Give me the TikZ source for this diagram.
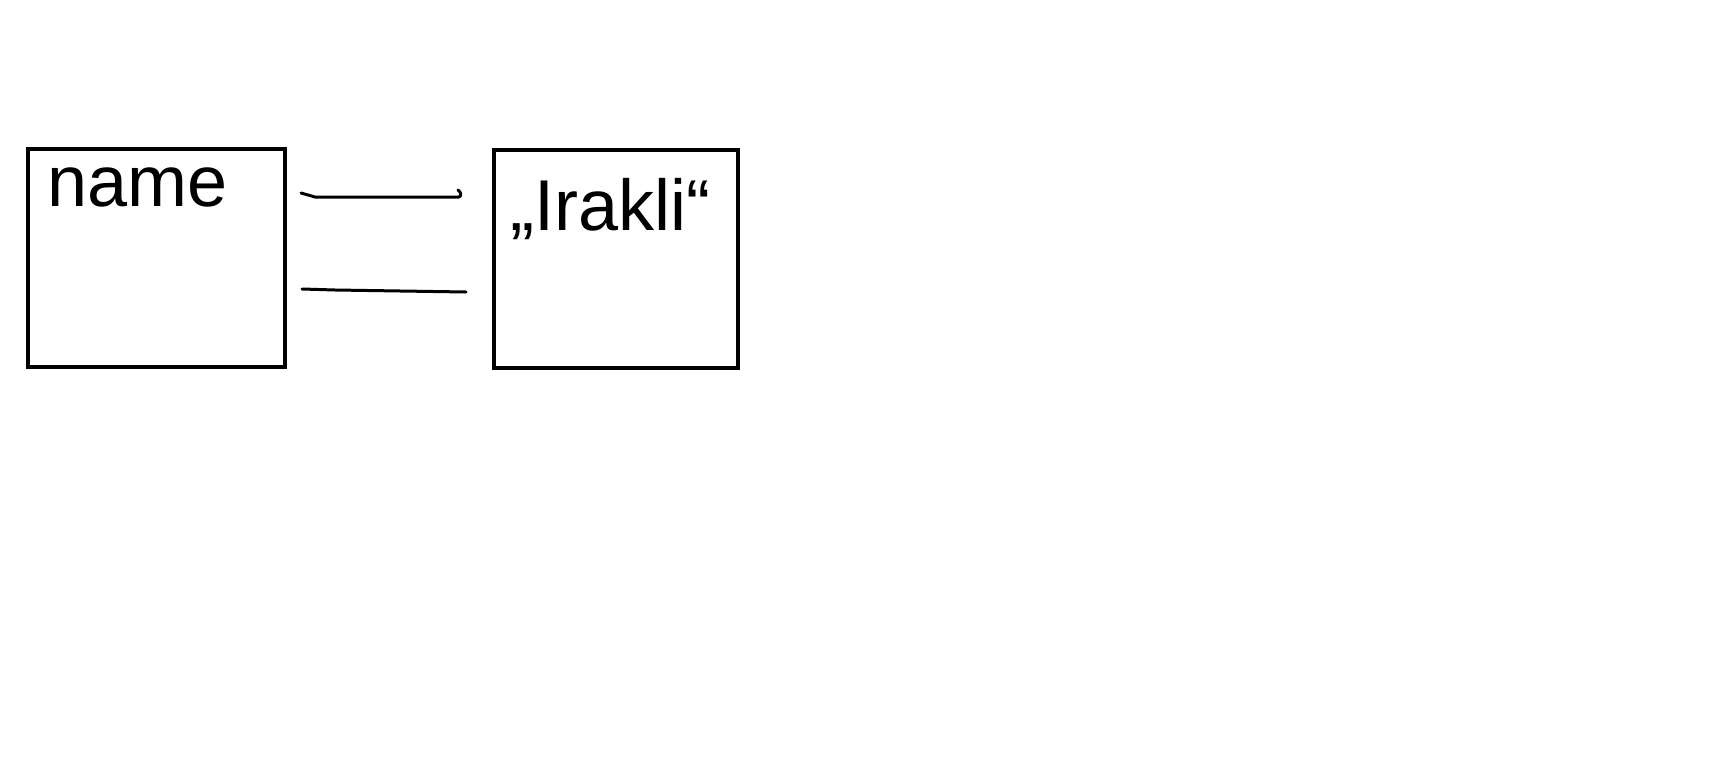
\documentclass[tikz,border=0pt]{standalone}
\usepackage{fontspec}
\setmainfont{Liberation Sans}
\begin{document}
\begin{tikzpicture}[x=1pt,y=-1pt,
  box/.style={draw=black,line width=4.4pt,fill=none},
  hand/.style={font=\fontsize{72}{80}\selectfont,inner sep=0pt,anchor=base west},
  stroke/.style={draw=black,line width=3pt,line cap=round,line join=round}]
\useasboundingbox[fill=white] (0,0) rectangle (1715,763);
\node[box,minimum width=257pt,minimum height=218pt,anchor=north west] (left) at (26,147) {};
\node[box,minimum width=244pt,minimum height=218pt,anchor=north west] (right) at (492,148) {};
\node[hand] (lname) at (47,206) {name};
\node[hand] (rname) at (510,230) {„Irakli“};
\coordinate (t1) at (301,193);
\coordinate (t2) at (459,197);
\coordinate (b1) at (302,289);
\coordinate (b2) at (466,292);
\draw[stroke] (t1) -- (315,197) -- (t2) .. controls (462,196) and (461,192) .. (458,190);
\draw[stroke] (b1) -- (335,290) -- (b2);
\end{tikzpicture}
\end{document}
